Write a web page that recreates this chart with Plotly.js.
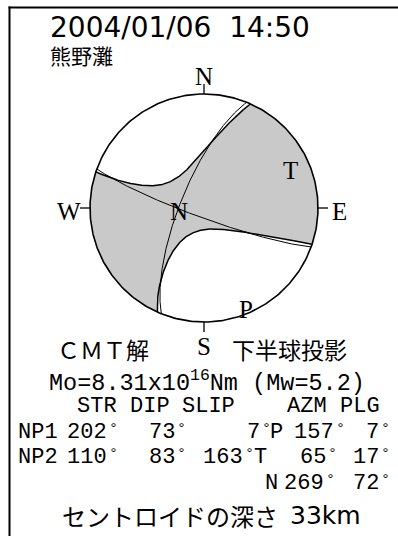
<!DOCTYPE html>
<html><head><meta charset="utf-8">
<script src="https://cdn.plot.ly/plotly-3.0.1.min.js"></script>
<style>html,body{margin:0;padding:0;background:#fff}</style>
</head><body><div id="chart" style="width:398px;height:536px"></div>
<script>
// ---- data ----
const eventDate = '2004/01/06', eventTime = '14:50', regionName = '熊野灘';
const planeNames = ['NP1', 'NP2'];
const planeStrike = [202, 110];
const planeDip = [73, 83];
const planeSlip = [7, 163];
const axisNames = ['P', 'T', 'N'];
const axisAzimuth = [157, 65, 269];
const axisPlunge = [7, 17, 72];
const axisEigen = [-1.15, 1.0, 0.15];   // relative eigenvalues, estimated from the shading shape
const momentMantissa = '8.31', momentExp = '16', magnitudeMw = '5.2';
const depthKm = 33;
const compassLabels = ['N', 'E', 'S', 'W'];
const compassAzimuth = [0, 90, 180, 270];
const headerLabels = ['STR', 'DIP', 'SLIP', 'AZM', 'PLG'];

// ---- geometry (pixel space == data space) ----
const CX = 204, CY = 208, R = 114;
const D2R = Math.PI / 180;
const GRAY = '#c9c9c9';
function vecAP(az, pl) { az *= D2R; pl *= D2R; return [Math.cos(pl) * Math.cos(az), Math.cos(pl) * Math.sin(az), Math.sin(pl)]; }
function proj(v) {
  let n = v[0], e = v[1], d = v[2];
  if (d < 0) { n = -n; e = -e; d = -d; }
  const th = Math.acos(Math.min(1, d));
  const r = Math.SQRT2 * Math.sin(th / 2);
  const h = Math.hypot(n, e);
  if (h < 1e-12) return [CX, CY];
  return [CX + R * r * e / h, CY - R * r * n / h];
}
const traces = [];
const cx = [], cy = [];
for (let i = 0; i <= 360; i++) { cx.push(CX + R * Math.sin(i * D2R)); cy.push(CY - R * Math.cos(i * D2R)); }
traces.push({ x: cx, y: cy, mode: 'lines', fill: 'toself', fillcolor: GRAY, line: { color: 'rgba(0,0,0,0)', width: 0 }, hoverinfo: 'skip' });

const iP = axisNames.indexOf('P'), iT = axisNames.indexOf('T'), iN = axisNames.indexOf('N');
const eP = vecAP(axisAzimuth[iP], axisPlunge[iP]);
const eT = vecAP(axisAzimuth[iT], axisPlunge[iT]);
const eN = vecAP(axisAzimuth[iN], axisPlunge[iN]);
const lP = axisEigen[iP], lT = axisEigen[iT], lN = axisEigen[iN];
const bx = [], by = [];
[1, -1].forEach(s => {
  const px = [], py = [];
  let any = false;
  for (let k = 0; k <= 1440; k++) {
    const f = k / 1440 * 2 * Math.PI;
    const rho2 = -lP / (lT * Math.cos(f) ** 2 + lN * Math.sin(f) ** 2 - lP);
    const a = Math.sqrt(rho2) * Math.cos(f), b = Math.sqrt(rho2) * Math.sin(f), c = s * Math.sqrt(1 - rho2);
    const v = [0, 1, 2].map(j => a * eT[j] + b * eN[j] + c * eP[j]);
    if (v[2] >= 0) {
      any = true;
      const p = proj(v); px.push(p[0]); py.push(p[1]); bx.push(p[0]); by.push(p[1]);
    } else {
      const h = Math.hypot(v[0], v[1]);
      const p = proj([v[0] / h, v[1] / h, 0]); px.push(p[0]); py.push(p[1]);
      bx.push(null); by.push(null);
    }
  }
  bx.push(null); by.push(null);
  if (any) traces.push({ x: px, y: py, mode: 'lines', fill: 'toself', fillcolor: '#ffffff', line: { color: 'rgba(0,0,0,0)', width: 0 }, hoverinfo: 'skip' });
});
traces.push({ x: bx, y: by, mode: 'lines', line: { color: '#000', width: 1.5 }, connectgaps: false, hoverinfo: 'skip' });

planeStrike.forEach((st, i) => {
  const dp = planeDip[i];
  const sv = [Math.cos(st * D2R), Math.sin(st * D2R), 0];
  const dv = [Math.cos(dp * D2R) * Math.cos((st + 90) * D2R), Math.cos(dp * D2R) * Math.sin((st + 90) * D2R), Math.sin(dp * D2R)];
  const xs = [], ys = [];
  for (let t = 0; t <= 180; t += 0.5) {
    const c = Math.cos(t * D2R), s = Math.sin(t * D2R);
    const p = proj([c * sv[0] + s * dv[0], c * sv[1] + s * dv[1], c * sv[2] + s * dv[2]]);
    xs.push(p[0]); ys.push(p[1]);
  }
  traces.push({ x: xs, y: ys, mode: 'lines', line: { color: '#000', width: 1 }, hoverinfo: 'skip' });
});
traces.push({ x: cx, y: cy, mode: 'lines', line: { color: '#000', width: 1.6 }, hoverinfo: 'skip' });
const tx = [], ty = [];
compassAzimuth.forEach(az => {
  const s = Math.sin(az * D2R), c = Math.cos(az * D2R);
  tx.push(CX + R * s, CX + (R + 10) * s, null); ty.push(CY - R * c, CY - (R + 10) * c, null);
});
traces.push({ x: tx, y: ty, mode: 'lines', line: { color: '#000', width: 1.3 }, hoverinfo: 'skip' });

const ann = [];
const serif = 'Liberation Serif, Times New Roman, serif';
compassLabels.forEach((lab, i) => {
  const az = compassAzimuth[i] * D2R;
  ann.push({ x: CX + (R + 21) * Math.sin(az), y: CY - (R + 21) * Math.cos(az), text: lab, showarrow: false, xanchor: 'center', yanchor: 'middle', yshift: -3, font: { family: serif, size: 25, color: '#000' } });
});
axisNames.forEach((lab, i) => {
  const p = proj(vecAP(axisAzimuth[i], axisPlunge[i]));
  ann.push({ x: p[0], y: p[1], text: lab, showarrow: false, xanchor: 'center', yanchor: 'middle', yshift: -3, font: { family: serif, size: 25, color: '#000' } });
});
const sans = 'DejaVu Sans, sans-serif';
const jp = 'Noto Sans CJK JP, sans-serif';
const mono = 'Liberation Mono, Courier New, monospace';
function A(x, y, text, family, size, xanchor, yshift) { ann.push({ x: x, y: y, text: text, showarrow: false, xanchor: xanchor || 'left', yanchor: 'middle', yshift: yshift || 0, font: { family: family, size: size, color: '#000' } }); }
function D(xRight, y, num) { A(xRight, y, String(num), mono, 22, 'right'); A(xRight + 4, y, '°', mono, 15, 'center', 3); }
A(48, 27, eventDate + '  ' + eventTime, sans, 28);
A(48, 55, regionName, jp, 21);
A(55, 349, 'ＣＭＴ解', jp, 23);
A(230, 349, '下半球投影', jp, 23);
A(47, 381, 'Mo=' + momentMantissa + 'x10<sup>' + momentExp + '</sup>Nm (Mw=' + magnitudeMw + ')', mono, 23.5);
const rowY = [406, 432, 457, 483];
headerLabels.forEach((h, i) => A([75, 128, 180, 285, 338][i], rowY[0], h, mono, 22));
const strikeRight = 109, dipRight = 177, slipRight = [262, 245];
planeNames.forEach((nm, i) => {
  const y = rowY[i + 1];
  A(16, y, nm, mono, 22);
  D(strikeRight, y, planeStrike[i]);
  D(dipRight, y, planeDip[i]);
  D(slipRight[i], y, planeSlip[i]);
});
const axLetterX = { P: 268, T: 252, N: 263 };
const azmRight = { P: 336, T: 328, N: 326 };
['P', 'T', 'N'].forEach((nm, k) => {
  const i = axisNames.indexOf(nm), y = rowY[k + 1];
  A(axLetterX[nm], y, nm, mono, 22);
  D(azmRight[nm], y, axisAzimuth[i]);
  D(381, y, axisPlunge[i]);
});
A(60, 515, 'セントロイドの深さ', jp, 24);
A(288, 515, depthKm + 'km', sans, 25);

const layout = {
  width: 398, height: 536, margin: { l: 0, r: 0, t: 0, b: 0 },
  paper_bgcolor: '#fff', plot_bgcolor: '#fff', showlegend: false,
  xaxis: { range: [0, 398], visible: false, fixedrange: true },
  yaxis: { range: [536, 0], visible: false, fixedrange: true },
  annotations: ann,
  shapes: [
    { type: 'line', x0: 9.5, x1: 9.5, y0: 6.5, y1: 540, line: { color: '#000', width: 2 } },
    { type: 'line', x0: 8.5, x1: 400, y0: 7.5, y1: 7.5, line: { color: '#000', width: 2 } }
  ]
};
Plotly.newPlot('chart', traces, layout, { staticPlot: true, displayModeBar: false });
</script></body></html>
